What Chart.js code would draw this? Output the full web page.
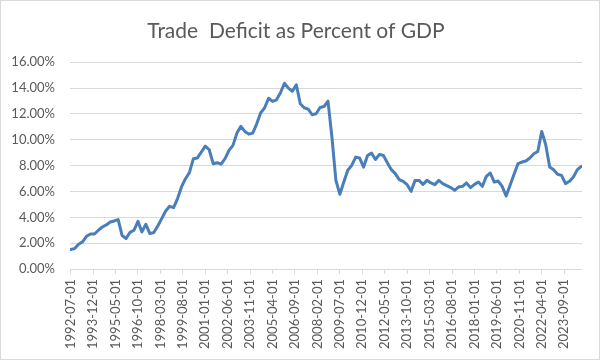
<!DOCTYPE html>
<html><head><meta charset="utf-8">
<script src="https://cdn.jsdelivr.net/npm/chart.js@4"></script>
<style>html,body{margin:0;padding:0;background:#fff}#wrap{width:600px;height:360px;position:relative}</style>
</head><body><div id="wrap"><canvas id="c" width="600" height="360"></canvas></div>
<script>
const dates = [
"1992-07","1992-10",
"1993-01","1993-04","1993-07","1993-10",
"1994-01","1994-04","1994-07","1994-10",
"1995-01","1995-04","1995-07","1995-10",
"1996-01","1996-04","1996-07","1996-10",
"1997-01","1997-04","1997-07","1997-10",
"1998-01","1998-04","1998-07","1998-10",
"1999-01","1999-04","1999-07","1999-10",
"2000-01","2000-04","2000-07","2000-10",
"2001-01","2001-04","2001-07","2001-10",
"2002-01","2002-04","2002-07","2002-10",
"2003-01","2003-04","2003-07","2003-10",
"2004-01","2004-04","2004-07","2004-10",
"2005-01","2005-04","2005-07","2005-10",
"2006-01","2006-04","2006-07","2006-10",
"2007-01","2007-04","2007-07","2007-10",
"2008-01","2008-04","2008-07","2008-10",
"2009-01","2009-04","2009-07","2009-10",
"2010-01","2010-04","2010-07","2010-10",
"2011-01","2011-04","2011-07","2011-10",
"2012-01","2012-04","2012-07","2012-10",
"2013-01","2013-04","2013-07","2013-10",
"2014-01","2014-04","2014-07","2014-10",
"2015-01","2015-04","2015-07","2015-10",
"2016-01","2016-04","2016-07","2016-10",
"2017-01","2017-04","2017-07","2017-10",
"2018-01","2018-04","2018-07","2018-10",
"2019-01","2019-04","2019-07","2019-10",
"2020-01","2020-04","2020-07","2020-10",
"2021-01","2021-04","2021-07","2021-10",
"2022-01","2022-04","2022-07","2022-10",
"2023-01","2023-04","2023-07","2023-10",
"2024-01","2024-04","2024-07","2024-10"
];
const deficitPct = [
1.51,1.58,1.92,2.10,2.53,2.71,2.71,3.00,3.25,3.41,
3.64,3.72,3.82,2.59,2.36,2.84,3.00,3.69,2.87,3.46,
2.74,2.82,3.33,3.90,4.49,4.85,4.75,5.45,6.35,6.99,
7.46,8.54,8.59,9.05,9.51,9.23,8.15,8.23,8.12,8.54,
9.18,9.57,10.52,11.04,10.65,10.44,10.52,11.24,12.09,12.48,
13.22,12.97,13.10,13.64,14.38,14.00,13.76,14.26,12.79,12.48,
12.37,11.94,12.02,12.50,12.58,12.99,10.20,6.86,5.78,6.73,
7.64,8.02,8.66,8.59,7.89,8.79,8.97,8.48,8.87,8.79,
8.23,7.69,7.38,6.92,6.79,6.53,6.01,6.86,6.86,6.55,
6.86,6.66,6.53,6.86,6.61,6.45,6.30,6.09,6.35,6.40,
6.66,6.30,6.55,6.73,6.40,7.17,7.43,6.73,6.81,6.40,
5.65,6.48,7.33,8.15,8.28,8.36,8.59,8.92,9.10,10.65,
9.62,7.89,7.69,7.33,7.25,6.61,6.79,7.12,7.69,7.94
];
const tickLabels = [
"1992-07-01","1993-12-01","1995-05-01","1996-10-01","1998-03-01","1999-08-01",
"2001-01-01","2002-06-01","2003-11-01","2005-04-01","2006-09-01","2008-02-01",
"2009-07-01","2010-12-01","2012-05-01","2013-10-01","2015-03-01","2016-08-01",
"2018-01-01","2019-06-01","2020-11-01","2022-04-01","2023-09-01"
];
const axisStart = "1992-07";
const axisEnd = "2024-10";

function monthIndex(s){
  const p = s.split('-').map(Number);
  const q = axisStart.split('-').map(Number);
  return (p[0]-q[0])*12 + (p[1]-q[1]);
}
const tickValues = tickLabels.map(monthIndex);
const points = dates.map((d,i)=>({x:monthIndex(d), y:deficitPct[i]}));

const FONT = 'Lato, "Open Sans", sans-serif';
const borderPlugin = {
  id:'frame',
  afterDraw(chart){
    const c = chart.ctx;
    c.save();
    c.strokeStyle = '#d9d9d9';
    c.lineWidth = 1;
    c.strokeRect(0.5,0.5,chart.width-1,chart.height-1);
    c.restore();
  }
};

new Chart(document.getElementById('c'), {
  type:'line',
  data:{datasets:[{
    data:points,
    borderColor:'#4a7ebb',
    borderWidth:3,
    pointRadius:0,
    tension:0,
    fill:false,
    borderJoinStyle:'round',
    borderCapStyle:'round'
  }]},
  options:{
    responsive:false,
    animation:false,
    layout:{padding:{left:10,right:18,top:0,bottom:0}},
    plugins:{
      legend:{display:false},
      tooltip:{enabled:false},
      title:{
        display:true,
        text:'Trade  Deficit as Percent of GDP',
        color:'#595959',
        font:{family:FONT,size:21,weight:'normal'},
        padding:{top:19,bottom:18.1}
      }
    },
    scales:{
      x:{
        type:'linear',
        min:monthIndex(axisStart)-0.5,
        max:monthIndex(axisEnd)+0.5,
        afterBuildTicks(ax){ ax.ticks = tickValues.map(v=>({value:v})); },
        afterFit(s){ s.height = 91; },
        ticks:{
          autoSkip:false,
          minRotation:90,
          maxRotation:90,
          padding:5,
          color:'#595959',
          font:{family:FONT,size:13},
          callback(v){ const i = tickValues.indexOf(v); return i>=0 ? tickLabels[i] : ''; }
        },
        grid:{drawOnChartArea:false,drawTicks:true,tickLength:5,color:'#d9d9d9'},
        border:{display:false}
      },
      y:{
        min:0,
        max:16,
        afterFit(s){ s.width = 60; },
        ticks:{
          stepSize:2,
          padding:15,
          color:'#595959',
          font:{family:FONT,size:13},
          callback:v=>v.toFixed(2)+'%'
        },
        grid:{color:'#d9d9d9',drawTicks:false},
        border:{display:false}
      }
    }
  },
  plugins:[borderPlugin]
});
</script>
</body></html>
